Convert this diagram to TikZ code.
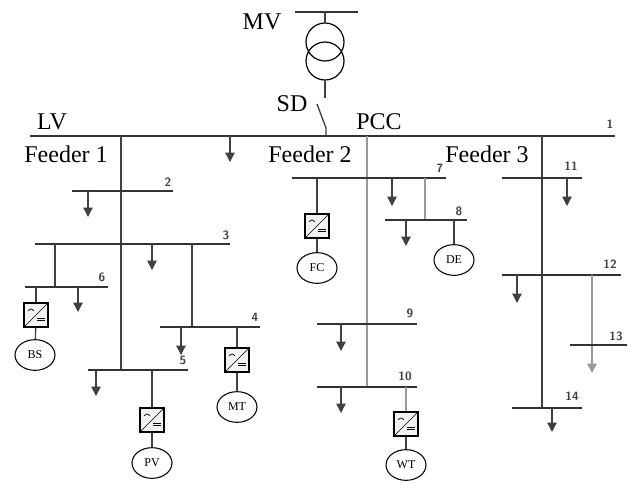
\documentclass[tikz,border=0pt]{standalone}
\usepackage{fontspec}
\setmainfont{Liberation Serif}
\usetikzlibrary{arrows.meta,shapes.geometric}
\begin{document}
\begin{tikzpicture}[x=0.75pt,y=-0.75pt,
 bus/.style={line width=2.2pt,draw=black!80},
 ln/.style={line width=1pt,draw=black!75},
 gl/.style={line width=1.3pt,draw=black!40},
 ld/.style={line width=1pt,draw=black!75,-{Triangle[width=7pt,length=7pt]}},
 lbl/.style={font=\small\sffamily\bfseries,text=black!75,inner sep=0pt},
 big/.style={font=\fontsize{18}{18}\selectfont,inner sep=0pt},
 gen/.style={ellipse,draw,line width=0.8pt,minimum width=30pt,minimum height=23pt,inner sep=0pt,font=\small},
 conv/.style={draw,line width=0.8pt,fill=black!5,minimum size=18pt,inner sep=0pt}]
\useasboundingbox (0,0) rectangle (639,490);
\newcommand\cnv[2]{\node[conv] (#1) at #2 {};
 \draw[line width=0.5pt] (#1.south west)--(#1.north east);
 \draw[line width=0.5pt] ([shift={(-8,-4)}]#1.center) sin ++(3,-2) cos ++(3,2);
 \draw[line width=0.6pt] ([shift={(1,5)}]#1.center)--++(8,0) ([shift={(1,3)}]#1.center)--++(8,0);}
% MV / transformer
\draw[bus] (295,12)--(358,12);
\node[big] (mv) at (262,22) {MV};
\draw[line width=0.9pt] (325,42) circle (19) (325,61) circle (19);
\draw[ln] (325,12)--(325,23);
\draw[ln] (325,80)--(325,98);
\draw[ln] (317,104)--(326,128)--(326,136);
\node[big] (sd) at (292,104) {SD};
% LV bus
\draw[bus] (30,136)--(615,136);
\node[big] (lv) at (52,122) {LV};
\node[big] (pcc) at (379,122) {PCC};
\node[lbl] at (610,124) {1};
\node[big] at (66,154) {Feeder 1};
\node[big] at (310,154) {Feeder 2};
\node[big] at (487,154) {Feeder 3};
\draw[ld] (230,136)--(230,162);
% Feeder 1
\draw[ln] (121,136)--(121,370);
\draw[bus] (72,191)--(173,191); \node[lbl] at (168,182) {2};
\draw[ld] (88,191)--(88,217);
\draw[bus] (35,244)--(230,244); \node[lbl] at (226,235) {3};
\draw[ld] (152,244)--(152,270);
\draw[ln] (55,244)--(55,287);
\draw[bus] (25,287)--(108,287); \node[lbl] at (102,277) {6};
\draw[ld] (78,287)--(78,312);
\draw[ln] (36,287)--(36,306);
\cnv{c6}{(36,315)}
\node[gen] (bs) at (35,355) {BS};
\draw[ln] (c6)--(bs);
\draw[ln] (192,244)--(192,327);
\draw[bus] (160,327)--(260,327); \node[lbl] at (255,317) {4};
\draw[ld] (181,327)--(181,355);
\draw[ln] (237,327)--(237,351);
\cnv{c4}{(237,360)}
\node[gen] (mt) at (237,407) {MT};
\draw[ln] (c4)--(mt);
\draw[bus] (88,370)--(188,370); \node[lbl] at (183,360) {5};
\draw[ld] (96,370)--(96,396);
\draw[ln] (152,370)--(152,411);
\cnv{c5}{(152,420)}
\node[gen] (pv) at (152,463) {PV};
\draw[ln] (c5)--(pv);
% Feeder 2
\draw[gl] (367,136)--(367,387);
\draw[bus] (292,178)--(446,178); \node[lbl] at (440,168) {7};
\draw[ln] (317,178)--(317,217);
\cnv{c7}{(317,226)}
\node[gen] (fc) at (317,268) {FC};
\draw[ln] (c7)--(fc);
\draw[ld] (392,178)--(392,206);
\draw[gl] (425,178)--(425,220);
\draw[bus] (385,220)--(467,220); \node[lbl] at (459,211) {8};
\draw[ld] (406,220)--(406,246);
\node[gen] (de) at (454,260) {DE};
\draw[ln] (454,220)--(de);
\draw[bus] (317,324)--(417,324); \node[lbl] at (410,313) {9};
\draw[ld] (341,324)--(341,351);
\draw[bus] (317,387)--(417,387); \node[lbl] at (405,376) {10};
\draw[ld] (341,387)--(341,413);
\draw[gl] (406,387)--(406,415);
\cnv{c10}{(406,424)}
\node[gen] (wt) at (406,465) {WT};
\draw[ln] (c10)--(wt);
% Feeder 3
\draw[ln] (542,136)--(542,408);
\draw[bus] (502,178)--(582,178); \node[lbl] at (571,166) {11};
\draw[ld] (567,178)--(567,206);
\draw[bus] (502,275)--(621,275); \node[lbl] at (610,264) {12};
\draw[ld] (517,275)--(517,303);
\draw[gl,-{Triangle[width=7pt,length=7pt]}] (592,275)--(592,373);
\draw[bus] (570,345)--(627,345); \node[lbl] at (616,336) {13};
\draw[bus] (512,408)--(582,408); \node[lbl] at (572,396) {14};
\draw[ld] (552,408)--(552,432);
\end{tikzpicture}
\end{document}
